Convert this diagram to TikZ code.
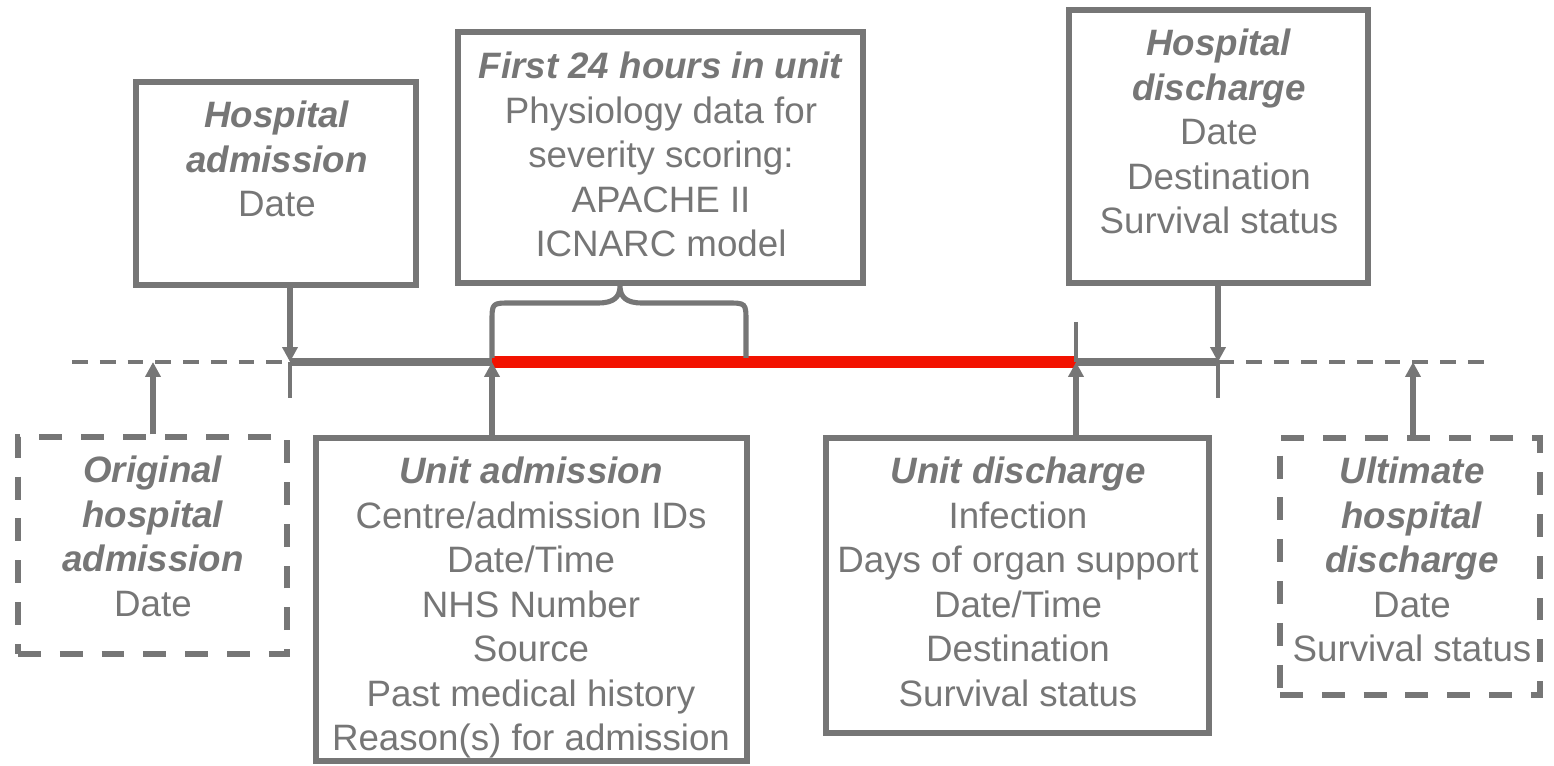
\documentclass[tikz,border=0pt]{standalone}
\usepackage{fontspec}
\setmainfont{Liberation Sans}
\usetikzlibrary{arrows.meta}
\definecolor{gr}{RGB}{118,118,118}
\definecolor{rd}{RGB}{242,18,0}
\begin{document}
\begin{tikzpicture}[x=0.02cm,y=-0.02cm,
  box/.style={draw=gr, line width=3.1pt, inner sep=0pt},
  dbox/.style={box, dash pattern=on 13pt off 10.8pt},
  txt/.style={anchor=north, inner sep=0pt, align=center, text=gr,
    font=\fontsize{20.9}{25.3}\selectfont},
  arr/.style={draw=gr, line width=3.4pt, -{Triangle[length=8.5pt,width=8.5pt]}},
  tick/.style={draw=gr, line width=2.8pt},
  tl/.style={draw=gr, line width=4pt},
  tld/.style={draw=gr, line width=2.3pt, dash pattern=on 9pt off 6.8pt},
  redl/.style={draw=rd, line width=6.4pt},
  brace/.style={draw=gr, line width=2.9pt, line join=round}
]
\useasboundingbox (0,0) rectangle (1554,766);

% boxes
\node[box, minimum width=5.6cm, minimum height=4.06cm] (HA) at (276,183.5) {};
\node[box, minimum width=8.1cm, minimum height=5.02cm] (F24) at (660.5,157.5) {};
\node[box, minimum width=5.98cm, minimum height=5.46cm] (HD) at (1218.5,146.5) {};
\node[dbox, minimum width=5.38cm, minimum height=4.34cm] (OHA) at (152.5,545.5) {};
\node[box, minimum width=8.62cm, minimum height=6.46cm] (UA) at (531.5,599.5) {};
\node[box, minimum width=7.66cm, minimum height=5.9cm] (UD) at (1017.5,585.5) {};
\node[dbox, minimum width=5.2cm, minimum height=5.14cm] (UHD) at (1410,566.5) {};

% texts
\node[txt] (HAt) at (277,101) {\textbf{\textit{Hospital}}\\\textbf{\textit{admission}}\\Date};
\node[txt] (F24t) at (661,52) {\textbf{\textit{First 24 hours in unit}}\\Physiology data for\\severity scoring:\\APACHE II\\ICNARC model};
\node[txt] (HDt) at (1219,29) {\textbf{\textit{Hospital}}\\\textbf{\textit{discharge}}\\Date\\Destination\\Survival status};
\node[txt] (OHAt) at (153,456) {\textbf{\textit{Original}}\\\textbf{\textit{hospital}}\\\textbf{\textit{admission}}\\Date};
\node[txt] (UAt) at (531,457) {\textbf{\textit{Unit admission}}\\Centre/admission IDs\\Date/Time\\NHS Number\\Source\\Past medical history\\Reason(s) for admission};
\node[txt] (UDt) at (1018,457) {\textbf{\textit{Unit discharge}}\\Infection\\Days of organ support\\Date/Time\\Destination\\Survival status};
\node[txt] (UHDt) at (1412,457) {\textbf{\textit{Ultimate}}\\\textbf{\textit{hospital}}\\\textbf{\textit{discharge}}\\Date\\Survival status};

% timeline coordinates
\coordinate (L0) at (72,362);
\coordinate (tA) at (290,362);
\coordinate (tO) at (153,362);
\coordinate (tU) at (492,362);
\coordinate (tD) at (1076,362);
\coordinate (tH) at (1218,362);
\coordinate (tX) at (1413,362);
\coordinate (R0) at (1490,362);
\coordinate (tAb) at (290,398);
\coordinate (tHb) at (1218,398);
\coordinate (tDt) at (1076,322);
\coordinate (bx) at (620,0);
\coordinate (bL) at (492,358);
\coordinate (bR) at (746,358);

% timeline
\draw[tld] (L0) -- (tA);
\draw[tld] (tH) -- (R0);
\draw[tl] (tA) -- (tU);
\draw[tl] (tD) -- (tH);
\draw[redl] (tU) -- (tD);
\draw[tick] (tA) -- (tAb);
\draw[tick] (tH) -- (tHb);
\draw[tick] (tDt) -- (tD);

% brace
\draw[brace] (bL) -- (492,322) .. controls (492,303) .. (511,303) -- (598,303)
  .. controls (614,303) and (620,297) .. (F24.south -| bx)
  .. controls (620,297) and (626,303) .. (642,303) -- (727,303)
  .. controls (746,303) .. (746,322) -- (bR);

% arrows
\draw[arr] (HA.south -| tA) -- (tA);
\draw[arr] (HD.south -| tH) -- (tH);
\draw[arr] (OHA.north -| tO) -- (tO);
\draw[arr] (UA.north -| tU) -- (tU);
\draw[arr] (UD.north -| tD) -- (tD);
\draw[arr] (UHD.north -| tX) -- (tX);
\end{tikzpicture}
\end{document}
